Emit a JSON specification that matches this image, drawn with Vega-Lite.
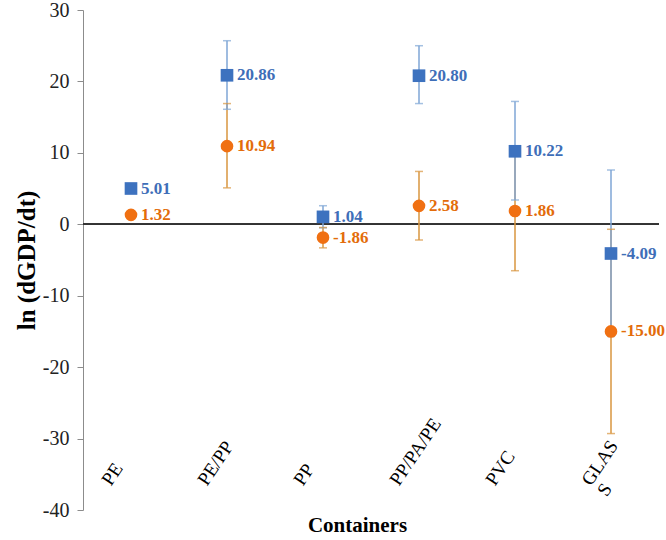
{
  "$schema": "https://vega.github.io/schema/vega-lite/v6.json",
  "width": 576,
  "height": 500,
  "autosize": {"type": "none"},
  "padding": {"left": 83, "top": 10, "right": 7, "bottom": 30},
  "background": "white",
  "config": {
    "view": {"stroke": null},
    "font": "Liberation Serif",
    "axisY": {
      "domainColor": "#8c8c8c",
      "tickColor": "#8c8c8c",
      "tickSize": 6,
      "labelFontSize": 20,
      "labelColor": "#222222",
      "labelPadding": 8,
      "labelExpr": "toString(datum.value)",
      "titleFontSize": 25,
      "titleFontWeight": "bold",
      "titleColor": "#000000",
      "titlePadding": 3,
      "grid": false
    }
  },
  "data": {
    "values": [
      {"container": "PE", "series": "Series 1", "value": 5.01, "label": "5.01", "lo": null, "hi": null},
      {"container": "PE", "series": "Series 2", "value": 1.32, "label": "1.32", "lo": null, "hi": null},
      {"container": "PE/PP", "series": "Series 1", "value": 20.86, "label": "20.86", "lo": 16.1, "hi": 25.7},
      {"container": "PE/PP", "series": "Series 2", "value": 10.94, "label": "10.94", "lo": 5.1, "hi": 16.9},
      {"container": "PP", "series": "Series 1", "value": 1.04, "label": "1.04", "lo": -0.5, "hi": 2.6},
      {"container": "PP", "series": "Series 2", "value": -1.86, "label": "-1.86", "lo": -3.3, "hi": -0.45},
      {"container": "PP/PA/PE", "series": "Series 1", "value": 20.8, "label": "20.80", "lo": 16.9, "hi": 25.0},
      {"container": "PP/PA/PE", "series": "Series 2", "value": 2.58, "label": "2.58", "lo": -2.2, "hi": 7.4},
      {"container": "PVC", "series": "Series 1", "value": 10.22, "label": "10.22", "lo": 3.4, "hi": 17.2},
      {"container": "PVC", "series": "Series 2", "value": 1.86, "label": "1.86", "lo": -6.5, "hi": 10.2},
      {"container": "GLASS", "series": "Series 1", "value": -4.09, "label": "-4.09", "lo": -15.7, "hi": 7.6},
      {"container": "GLASS", "series": "Series 2", "value": -15.0, "label": "-15.00", "lo": -29.3, "hi": -0.7}
    ]
  },
  "encoding": {
    "x": {
      "field": "container",
      "type": "nominal",
      "sort": ["PE", "PE/PP", "PP", "PP/PA/PE", "PVC", "GLASS"],
      "scale": {"paddingInner": 0, "paddingOuter": 0},
      "axis": {
        "domain": false,
        "ticks": false,
        "tickSize": 0,
        "labelAngle": -56,
        "labelAlign": "left",
        "labelBaseline": "middle",
        "labelOffset": -25,
        "labelPadding": -27,
        "labelFontSize": 19,
        "labelColor": "#000000",
        "labelOverlap": false,
        "labelLineHeight": 19,
        "labelExpr": "datum.label == 'GLASS' ? ['GLAS', 'S'] : datum.label",
        "title": "Containers",
        "titleFontSize": 21,
        "titleFontWeight": "bold",
        "titleColor": "#000000",
        "titleX": 274,
        "titleY": 21,
        "titleBaseline": "alphabetic"
      }
    }
  },
  "layer": [
    {
      "mark": {"type": "rule", "color": "#333333", "strokeWidth": 1.3},
      "encoding": {
        "x": null,
        "y": {"datum": 0, "type": "quantitative", "title": "ln (dGDP/dt)", "scale": {"domain": [-40, 30], "nice": false}, "axis": {"values": [-40, -30, -20, -10, 0, 10, 20, 30]}}
      }
    },
    {
      "transform": [{"filter": "datum.lo != null"}],
      "mark": {"type": "rule", "strokeWidth": 1.5},
      "encoding": {
        "y": {"field": "lo", "type": "quantitative", "title": "ln (dGDP/dt)", "scale": {"domain": [-40, 30], "nice": false}, "axis": {"values": [-40, -30, -20, -10, 0, 10, 20, 30]}},
        "y2": {"field": "hi"},
        "color": {"field": "series", "type": "nominal", "scale": {"domain": ["Series 2", "Series 1"], "range": ["#D9963F", "#7FA6D6"]}, "legend": null},
        "order": {"field": "series", "sort": "descending"}
      }
    },
    {
      "transform": [{"filter": "datum.lo != null"}],
      "mark": {"type": "tick", "orient": "horizontal", "size": 8, "thickness": 1.5},
      "encoding": {
        "y": {"field": "lo", "type": "quantitative", "title": "ln (dGDP/dt)", "scale": {"domain": [-40, 30], "nice": false}, "axis": {"values": [-40, -30, -20, -10, 0, 10, 20, 30]}},
        "color": {"field": "series", "type": "nominal", "scale": {"domain": ["Series 2", "Series 1"], "range": ["#D9963F", "#7FA6D6"]}, "legend": null}
      }
    },
    {
      "transform": [{"filter": "datum.hi != null"}],
      "mark": {"type": "tick", "orient": "horizontal", "size": 8, "thickness": 1.5},
      "encoding": {
        "y": {"field": "hi", "type": "quantitative", "title": "ln (dGDP/dt)", "scale": {"domain": [-40, 30], "nice": false}, "axis": {"values": [-40, -30, -20, -10, 0, 10, 20, 30]}},
        "color": {"field": "series", "type": "nominal", "scale": {"domain": ["Series 2", "Series 1"], "range": ["#D9963F", "#7FA6D6"]}, "legend": null}
      }
    },
    {
      "mark": {"type": "point", "filled": true, "opacity": 1, "size": 160},
      "encoding": {
        "y": {"field": "value", "type": "quantitative", "title": "ln (dGDP/dt)", "scale": {"domain": [-40, 30], "nice": false}, "axis": {"values": [-40, -30, -20, -10, 0, 10, 20, 30]}},
        "color": {"field": "series", "type": "nominal", "scale": {"domain": ["Series 1", "Series 2"], "range": ["#3D72BF", "#F07012"]}, "legend": null},
        "shape": {"field": "series", "type": "nominal", "scale": {"domain": ["Series 1", "Series 2"], "range": ["square", "circle"]}, "legend": null}
      }
    },
    {
      "mark": {"type": "text", "align": "left", "baseline": "middle", "dx": 10, "fontSize": 17, "fontWeight": "bold", "font": "Liberation Serif"},
      "encoding": {
        "y": {"field": "value", "type": "quantitative", "title": "ln (dGDP/dt)", "scale": {"domain": [-40, 30], "nice": false}, "axis": {"values": [-40, -30, -20, -10, 0, 10, 20, 30]}},
        "text": {"field": "label", "type": "nominal"},
        "color": {"field": "series", "type": "nominal", "scale": {"domain": ["Series 1", "Series 2"], "range": ["#3E6EB8", "#E36C0A"]}, "legend": null}
      }
    }
  ],
  "resolve": {"scale": {"color": "independent", "shape": "independent"}}
}
